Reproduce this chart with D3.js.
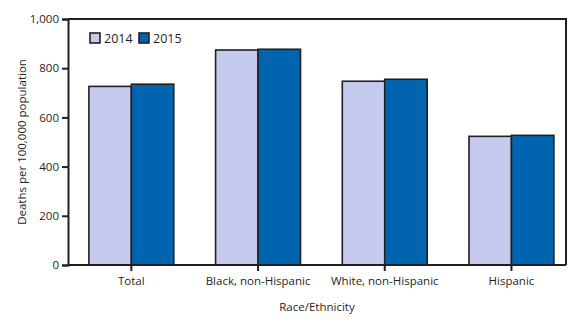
<!DOCTYPE html>
<html>
<head>
<meta charset="utf-8">
<script src="https://cdn.jsdelivr.net/npm/d3@7"></script>
<style>
  body { margin: 0; background: #fff; }
  text { font-family: "Open Sans", sans-serif; fill: #231f20; }
</style>
</head>
<body>
<div id="chart"></div>
<script>
const categories = ['Total', 'Black, non-Hispanic', 'White, non-Hispanic', 'Hispanic'];
const years = ['2014', '2015'];
const values2014 = [726, 874, 747, 523];
const values2015 = [735, 877, 755, 527];
const yTicks = [0, 200, 400, 600, 800, 1000];

const width = 575, height = 322;
const margin = { top: 19, left: 68, bottom: 57, right: 9 };
const plotRight = width - margin.right;
const plotBottom = height - margin.bottom;

const svg = d3.select('#chart').append('svg')
  .attr('width', width)
  .attr('height', height);

const color = d3.scaleOrdinal().domain(years).range(['#c5cbef', '#0065ae']);

// scales
const x = d3.scaleBand().domain(categories)
  .range([margin.left, margin.left + 4 * 126.7])
  .paddingInner(0.33).paddingOuter(0.165);
const x1 = d3.scaleBand().domain(years).range([0, x.bandwidth()]);
const y = d3.scaleLinear().domain([0, 1000]).range([plotBottom, margin.top]);

const data = categories.map((c, i) => ({ cat: c, vals: [values2014[i], values2015[i]] }));

// bars
const groups = svg.append('g').selectAll('g')
  .data(data)
  .join('g')
  .attr('transform', d => `translate(${x(d.cat)},0)`);

groups.selectAll('rect')
  .data(d => d.vals.map((v, i) => ({ year: years[i], v })))
  .join('rect')
  .attr('x', d => x1(d.year))
  .attr('y', d => y(d.v))
  .attr('width', x1.bandwidth())
  .attr('height', d => y(0) - y(d.v))
  .attr('fill', d => color(d.year))
  .attr('stroke', '#231f20')
  .attr('stroke-width', 1.6);

// frame (top and right)
svg.append('path')
  .attr('d', `M${margin.left},${margin.top}H${plotRight}V${plotBottom}`)
  .attr('fill', 'none')
  .attr('stroke', '#231f20')
  .attr('stroke-width', 2);

// y axis
const yAxis = svg.append('g')
  .attr('transform', `translate(${margin.left},0)`)
  .call(d3.axisLeft(y).tickValues(yTicks).tickSize(6).tickPadding(3).tickFormat(d3.format(',')));
yAxis.select('.domain').attr('stroke', '#231f20').attr('stroke-width', 2);
yAxis.selectAll('.tick line').attr('stroke', '#231f20').attr('stroke-width', 2);
yAxis.selectAll('text').style('font-size', '11.5px').attr('fill', '#231f20');

// x axis
const xAxis = svg.append('g')
  .attr('transform', `translate(0,${plotBottom})`)
  .call(d3.axisBottom(x).tickSize(6).tickPadding(6));
xAxis.select('.domain').attr('d', `M${margin.left},0H${plotRight}`)
  .attr('stroke', '#231f20').attr('stroke-width', 2);
xAxis.selectAll('.tick line').attr('stroke', '#231f20').attr('stroke-width', 2);
xAxis.selectAll('text').style('font-size', '11.5px').attr('fill', '#231f20');

// axis titles
svg.append('text')
  .attr('x', 317).attr('y', 311)
  .attr('text-anchor', 'middle')
  .style('font-size', '11.5px')
  .text('Race/Ethnicity');

svg.append('text')
  .attr('transform', `translate(26,${(margin.top + plotBottom) / 2}) rotate(-90)`)
  .attr('text-anchor', 'middle')
  .style('font-size', '11.5px')
  .text('Deaths per 100,000 population');

// legend
const legend = svg.append('g').selectAll('g')
  .data(years)
  .join('g')
  .attr('transform', (d, i) => `translate(${90 + i * 49},33)`);
legend.append('rect')
  .attr('width', 10).attr('height', 10)
  .attr('fill', d => color(d))
  .attr('stroke', '#231f20').attr('stroke-width', 1.6);
legend.append('text')
  .attr('x', 14).attr('y', 10)
  .style('font-size', '12.5px')
  .text(d => d);
</script>
</body>
</html>
